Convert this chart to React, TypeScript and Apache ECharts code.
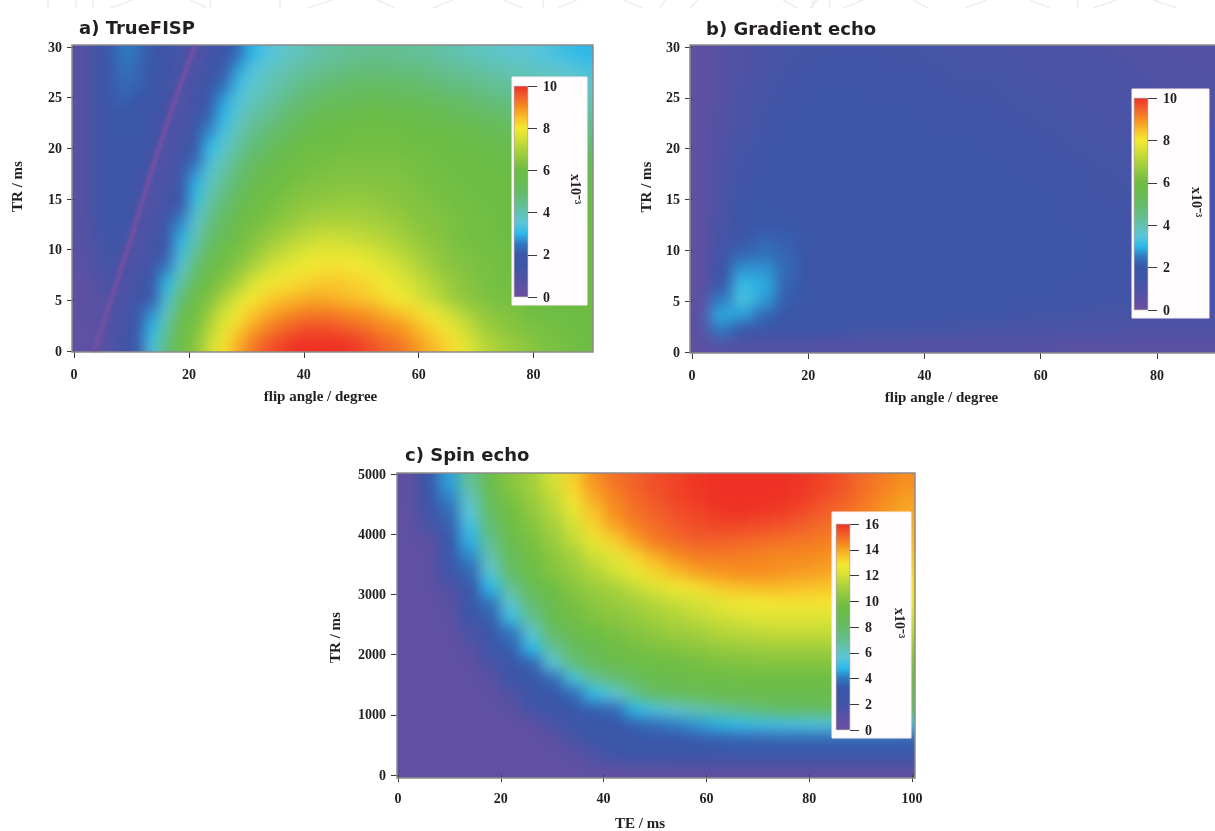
import React, { useEffect, useRef } from "react";
import * as echarts from "echarts";

const W = 1215;
const H = 831;

// Colour scale: evenly spaced from 0 to the maximum.
const scaleColors = [
  "#6b4fa1", "#5e50a3", "#4b53a6", "#3d55a7", "#3a56a8", "#2f78c0", "#2cb9e9",
  "#5bc5d9", "#62c2b0", "#63be88", "#64bc66", "#69bc4f", "#6dbd44", "#8cc63f",
  "#acd23b", "#d3e036", "#f3e932", "#f9c02a", "#f68e1f", "#f2602a", "#ee3124",
];

// Panel a) TrueFISP, x10^-3. Rows run from TR 29.25 (top) to TR 0.75 (bottom); columns 1.25..88.75 degrees.
const trueFisp = [
  [0.6,1.2,1.7,2.5,2.4,1.6,1.5,1.2,0.7,1.3,1.7,2.3,3.0,3.4,3.6,3.9,4.0,4.2,4.3,4.4,4.4,4.4,4.4,4.3,4.3,4.1,4.0,3.9,3.8,3.7,3.6,3.6,3.4,3.3,3.1,3.0],
  [0.6,1.2,1.7,2.4,2.3,1.6,1.5,1.1,0.8,1.5,1.9,2.8,3.4,3.7,3.9,4.1,4.3,4.4,4.5,4.6,4.7,4.7,4.6,4.6,4.5,4.4,4.3,4.2,4.1,4.0,3.9,3.8,3.7,3.6,3.5,3.3],
  [0.6,1.2,1.6,2.3,2.2,1.6,1.4,0.9,1.1,1.6,2.3,3.2,3.6,3.9,4.1,4.4,4.6,4.8,4.9,5.0,5.0,5.0,5.0,4.9,4.8,4.7,4.6,4.5,4.4,4.3,4.2,4.1,4.0,3.9,3.8,3.7],
  [0.6,1.2,1.6,2.2,2.0,1.6,1.3,0.8,1.3,1.8,2.8,3.4,3.8,4.1,4.4,4.7,4.9,5.1,5.2,5.3,5.4,5.4,5.3,5.3,5.2,5.1,5.0,4.9,4.7,4.6,4.5,4.4,4.2,4.1,4.0,3.9],
  [0.6,1.2,1.6,2.0,1.9,1.5,1.1,0.8,1.4,2.1,3.0,3.7,4.1,4.4,4.7,5.0,5.3,5.5,5.6,5.7,5.8,5.8,5.7,5.6,5.5,5.4,5.3,5.2,5.1,5.0,4.8,4.7,4.6,4.4,4.3,4.2],
  [0.6,1.2,1.6,1.9,1.8,1.5,0.9,1.0,1.5,2.6,3.3,3.9,4.4,4.7,5.0,5.3,5.6,5.8,5.9,6.0,6.0,6.0,6.0,5.9,5.8,5.8,5.7,5.6,5.4,5.3,5.2,5.0,4.9,4.8,4.6,4.5],
  [0.6,1.2,1.6,1.7,1.7,1.4,0.8,1.2,1.8,3.0,3.6,4.2,4.7,5.0,5.4,5.7,5.9,6.0,6.0,6.1,6.1,6.1,6.1,6.0,6.0,6.0,5.9,5.8,5.7,5.6,5.5,5.4,5.2,5.1,5.0,4.9],
  [0.6,1.2,1.6,1.6,1.6,1.2,0.8,1.3,2.2,3.3,3.9,4.5,5.0,5.4,5.7,6.0,6.1,6.1,6.2,6.2,6.2,6.2,6.2,6.1,6.1,6.0,6.0,6.0,5.9,5.8,5.7,5.6,5.5,5.4,5.3,5.2],
  [0.6,1.2,1.6,1.6,1.5,1.0,0.9,1.4,2.8,3.6,4.2,4.8,5.3,5.7,6.0,6.1,6.2,6.3,6.3,6.3,6.3,6.3,6.3,6.2,6.1,6.1,6.0,6.0,6.0,5.9,5.9,5.8,5.7,5.6,5.5,5.4],
  [0.6,1.2,1.6,1.6,1.4,0.8,1.2,1.6,3.0,3.9,4.5,5.1,5.6,6.0,6.1,6.3,6.4,6.4,6.5,6.5,6.5,6.4,6.4,6.3,6.2,6.1,6.1,6.0,6.0,6.0,6.0,5.9,5.9,5.8,5.7,5.6],
  [0.6,1.2,1.5,1.5,1.2,0.8,1.3,2.0,3.3,4.2,4.8,5.4,5.9,6.1,6.3,6.5,6.6,6.7,6.7,6.7,6.7,6.6,6.5,6.4,6.3,6.2,6.1,6.1,6.0,6.0,6.0,6.0,6.0,5.9,5.9,5.8],
  [0.6,1.1,1.5,1.5,1.0,0.9,1.4,2.6,3.6,4.5,5.1,5.7,6.1,6.3,6.5,6.7,6.9,7.0,7.0,7.0,6.9,6.8,6.7,6.5,6.4,6.3,6.2,6.1,6.1,6.0,6.0,6.0,6.0,6.0,6.0,5.9],
  [0.6,1.0,1.5,1.4,0.8,1.2,1.5,2.9,3.9,4.8,5.4,6.0,6.3,6.6,6.9,7.1,7.3,7.4,7.4,7.3,7.2,7.1,6.9,6.7,6.5,6.4,6.2,6.1,6.1,6.0,6.0,6.0,6.0,6.0,6.0,6.0],
  [0.6,0.9,1.4,1.2,0.8,1.3,1.8,3.2,4.3,5.2,5.8,6.2,6.6,7.0,7.3,7.5,7.7,7.8,7.8,7.7,7.6,7.4,7.2,7.0,6.7,6.5,6.3,6.2,6.1,6.1,6.0,6.0,6.0,6.0,6.0,6.0],
  [0.6,0.8,1.3,0.9,1.0,1.4,2.5,3.6,4.8,5.6,6.1,6.5,7.0,7.4,7.7,7.9,8.0,8.1,8.1,8.0,7.9,7.7,7.5,7.2,6.9,6.6,6.4,6.3,6.2,6.1,6.0,6.0,6.0,6.0,6.0,6.0],
  [0.5,0.7,1.1,0.8,1.3,1.5,3.0,4.1,5.3,6.0,6.5,7.0,7.6,7.9,8.1,8.2,8.3,8.4,8.4,8.3,8.2,8.0,7.8,7.5,7.2,6.9,6.6,6.4,6.2,6.1,6.1,6.0,6.0,6.0,6.0,6.0],
  [0.5,0.6,0.8,1.0,1.4,2.0,3.3,4.8,5.8,6.3,7.0,7.6,8.0,8.3,8.5,8.6,8.7,8.7,8.6,8.5,8.4,8.2,8.0,7.8,7.4,7.1,6.7,6.5,6.3,6.2,6.1,6.0,6.0,6.0,6.0,6.0],
  [0.5,0.6,0.7,1.1,1.5,2.7,3.7,5.3,6.0,6.7,7.5,8.0,8.4,8.7,8.9,9.1,9.2,9.2,9.1,9.0,8.9,8.7,8.5,8.3,8.0,7.7,7.3,6.9,6.6,6.4,6.3,6.1,6.0,6.0,6.0,6.0],
  [0.5,0.5,0.7,1.2,1.6,3.0,4.2,5.7,6.2,7.1,7.8,8.3,8.8,9.1,9.4,9.6,9.7,9.7,9.6,9.5,9.3,9.1,9.0,8.7,8.4,8.1,7.7,7.3,6.9,6.6,6.4,6.3,6.2,6.1,6.0,6.0],
  [0.5,0.5,0.8,1.3,1.9,3.3,4.6,5.9,6.4,7.4,8.1,8.7,9.2,9.6,9.8,10,10,10,10,9.9,9.7,9.5,9.3,9.0,8.7,8.4,8.1,7.6,7.2,6.9,6.7,6.5,6.3,6.2,6.1,6.0],
];

// Ridge of the dark streak in panel a): flip angle and TR read along it.
const streakAngles = [3.5, 6.4, 10.2, 14.2, 17.6, 21];
const streakTr = [0, 5, 11.6, 19, 24.8, 30];

// Panel b) Gradient echo, x10^-3. Rows TR 29.25 to 0.75; columns 1.875..88.125 degrees.
const gradientEcho = [
  [0.5,0.7,0.9,1.1,1.2,1.3,1.3,1.3,1.3,1.3,1.3,1.2,1.2,1.2,1.1,1.1,1.0,1.0,1.0,0.9,0.9,0.9,0.8,0.8],
  [0.5,0.7,0.9,1.1,1.3,1.3,1.4,1.4,1.4,1.3,1.3,1.3,1.2,1.2,1.2,1.1,1.1,1.0,1.0,1.0,0.9,0.9,0.9,0.8],
  [0.5,0.7,1.0,1.2,1.3,1.4,1.4,1.4,1.4,1.4,1.4,1.3,1.3,1.3,1.2,1.2,1.1,1.1,1.0,1.0,1.0,0.9,0.9,0.9],
  [0.5,0.7,1.0,1.2,1.4,1.4,1.5,1.5,1.4,1.4,1.4,1.4,1.3,1.3,1.3,1.2,1.2,1.1,1.1,1.0,1.0,1.0,0.9,0.9],
  [0.5,0.8,1.1,1.3,1.4,1.5,1.5,1.5,1.5,1.5,1.4,1.4,1.4,1.4,1.3,1.3,1.2,1.2,1.1,1.1,1.1,1.0,1.0,0.9],
  [0.5,0.8,1.1,1.3,1.5,1.5,1.5,1.5,1.5,1.5,1.5,1.4,1.4,1.4,1.4,1.3,1.3,1.2,1.2,1.1,1.1,1.1,1.0,1.0],
  [0.5,0.9,1.2,1.4,1.5,1.5,1.6,1.6,1.5,1.5,1.5,1.5,1.5,1.4,1.4,1.4,1.3,1.3,1.2,1.2,1.1,1.1,1.1,1.0],
  [0.5,0.9,1.3,1.4,1.5,1.6,1.6,1.6,1.6,1.5,1.5,1.5,1.5,1.5,1.4,1.4,1.4,1.3,1.3,1.2,1.2,1.1,1.1,1.1],
  [0.5,1.0,1.3,1.5,1.6,1.6,1.6,1.6,1.6,1.6,1.5,1.5,1.5,1.5,1.5,1.4,1.4,1.4,1.3,1.3,1.2,1.2,1.1,1.1],
  [0.5,1.0,1.4,1.6,1.6,1.6,1.6,1.6,1.6,1.6,1.6,1.5,1.5,1.5,1.5,1.5,1.4,1.4,1.3,1.3,1.3,1.2,1.2,1.1],
  [0.5,1.0,1.5,1.8,1.7,1.6,1.6,1.6,1.6,1.6,1.6,1.6,1.5,1.5,1.5,1.5,1.5,1.4,1.4,1.3,1.3,1.2,1.2,1.2],
  [0.5,1.1,1.7,2.0,1.9,1.6,1.6,1.6,1.6,1.6,1.6,1.6,1.5,1.5,1.5,1.5,1.5,1.4,1.4,1.4,1.3,1.3,1.2,1.2],
  [0.5,1.2,1.9,2.2,2.1,1.7,1.6,1.6,1.6,1.6,1.6,1.6,1.5,1.5,1.5,1.5,1.5,1.5,1.4,1.4,1.3,1.3,1.3,1.2],
  [0.5,1.3,2.2,2.4,2.2,1.7,1.7,1.6,1.6,1.6,1.6,1.6,1.6,1.5,1.5,1.5,1.5,1.5,1.4,1.4,1.4,1.3,1.3,1.2],
  [0.5,1.6,2.7,2.7,2.3,1.8,1.7,1.6,1.6,1.6,1.6,1.6,1.6,1.5,1.5,1.5,1.5,1.5,1.4,1.4,1.4,1.3,1.3,1.2],
  [0.5,1.9,3.1,2.9,2.2,1.7,1.6,1.6,1.6,1.6,1.6,1.6,1.5,1.5,1.5,1.5,1.5,1.4,1.4,1.4,1.3,1.3,1.3,1.2],
  [0.5,2.5,3.3,2.8,2.1,1.6,1.6,1.6,1.6,1.6,1.6,1.5,1.5,1.5,1.5,1.4,1.4,1.4,1.4,1.3,1.3,1.2,1.2,1.1],
  [0.6,2.9,2.8,2.3,1.8,1.6,1.6,1.5,1.5,1.5,1.5,1.5,1.4,1.4,1.4,1.3,1.3,1.3,1.2,1.2,1.2,1.1,1.1,1.0],
  [0.6,2.5,1.9,1.7,1.6,1.5,1.5,1.4,1.3,1.3,1.2,1.2,1.2,1.1,1.1,1.1,1.0,1.0,1.0,1.0,0.9,0.9,0.9,0.9],
  [0.5,0.7,0.8,0.8,0.8,0.8,0.7,0.7,0.7,0.7,0.7,0.7,0.7,0.7,0.7,0.7,0.7,0.6,0.6,0.6,0.6,0.6,0.6,0.6],
];

// Panel c) Spin echo, x10^-3. Rows TR 4875 to 125; columns TE 2..98 ms.
const spinEcho = [
  [.7,2.6,4.5,6.9,9,10.3,11,12,13.3,14.3,14.9,15.2,15.5,15.7,15.9,16,16,16,16,15.9,15.7,15.4,15,14.7,14.4],
  [.7,2.6,4.2,6.2,8.6,10,10.8,11.7,13,14,14.6,15.1,15.4,15.7,15.9,16,16,16,16,15.9,15.6,15.3,14.9,14.5,14.2],
  [.7,2.2,3.7,5.6,8.1,9.7,10.5,11.4,12.5,13.6,14.4,14.9,15.2,15.5,15.7,15.9,16,15.9,15.8,15.6,15.3,15,14.7,14.3,14],
  [.7,1.6,3.4,5.2,7.6,9.3,10.2,11,12,13.2,14,14.6,15,15.3,15.5,15.6,15.6,15.5,15.4,15.2,15,14.8,14.5,14.2,13.9],
  [.7,.9,3,4.7,7,8.9,9.9,10.7,11.6,12.5,13.3,14.1,14.7,15,15.2,15.2,15.1,15,14.9,14.8,14.7,14.5,14.2,14,13.7],
  [.7,.8,2.8,4.2,6.4,8.4,9.7,10.4,11,11.9,12.4,13.2,13.9,14.4,14.7,14.7,14.7,14.6,14.5,14.5,14.4,14.2,14,13.7,13.5],
  [.7,.8,2.5,3.6,5.7,8,9.3,10.2,10.7,11.3,12,12.6,13.2,13.7,14.1,14.3,14.4,14.4,14.3,14.2,14.1,13.9,13.7,13.5,13.2],
  [.7,.7,1.4,3.2,4.8,6.9,8.6,9.6,10.3,10.8,11.1,11.7,12.3,12.7,13,13.4,13.6,13.7,13.7,13.6,13.5,13.4,13.3,13.1,12.9],
  [.7,.7,1,2.8,3.9,5.9,7.8,9,9.9,10.4,10.7,11,11.4,11.8,12.1,12.4,12.7,12.8,12.9,12.9,12.9,12.8,12.8,12.6,12.5],
  [.7,.7,.8,2.4,3.4,5.1,7,8.7,9.7,10.1,10.4,10.7,11,11.3,11.6,11.9,12.1,12.3,12.3,12.3,12.3,12.2,12.1,12,11.9],
  [.7,.7,.7,1.6,3,3.9,5.8,8,8.9,9.5,9.9,10.2,10.5,10.8,11,11.3,11.5,11.6,11.7,11.7,11.7,11.7,11.6,11.5,11.4],
  [.7,.7,.7,1,2.8,3.4,4.8,6.8,8.2,8.8,9.4,9.8,10,10.2,10.4,10.6,10.7,10.8,10.9,10.9,10.9,10.9,10.8,10.7,10.6],
  [.7,.7,.7,.8,1.7,3,3.5,5.6,7.4,8.4,8.9,9.2,9.4,9.6,9.8,10,10.1,10.2,10.2,10.2,10.2,10.2,10.2,10.1,10],
  [.7,.7,.7,.7,1,2.6,3.1,3.7,5.3,6.9,7.7,8.4,8.9,9.1,9.3,9.4,9.5,9.6,9.6,9.6,9.6,9.6,9.6,9.5,9.4],
  [.7,.7,.7,.7,.8,1.4,2.9,3.2,3.7,4.9,5.7,7,8.1,8.4,8.6,8.8,8.9,9,9,9,9,9,9,8.9,8.8],
  [.7,.7,.7,.7,.7,.9,2,2.9,3.2,3.4,3.7,4.8,5.4,5.9,6.4,6.8,7.2,7.6,7.9,8,8.1,8.1,8.1,8,7.9],
  [.7,.7,.7,.7,.7,.7,.8,1.6,2.8,3,3.2,3.5,3.8,4.1,4.4,4.7,4.9,5.1,5.2,5.3,5.4,5.4,5.4,5.4,5.3],
  [.7,.7,.7,.7,.7,.7,.7,.9,1.8,2.8,3,3.1,3.2,3.2,3.3,3.4,3.5,3.5,3.6,3.6,3.6,3.6,3.6,3.6,3.5],
  [.7,.7,.7,.7,.7,.7,.7,.7,.9,1.5,2.4,2.8,2.9,3,3,3,3,3,3,3,3,3,3,3,3],
  [.7,.7,.7,.7,.7,.7,.7,.7,.7,.7,.7,.8,.8,.9,.9,.9,.9,.9,.9,.9,.9,.9,.9,.9,.9],
];

const flipTicks = [0, 20, 40, 60, 80];
const teTicks = [0, 20, 40, 60, 80, 100];
const shortTrTicks = [0, 5, 10, 15, 20, 25, 30];
const longTrTicks = [0, 1000, 2000, 3000, 4000, 5000];
const barTicks10 = [0, 2, 4, 6, 8, 10];
const barTicks16 = [0, 2, 4, 6, 8, 10, 12, 14, 16];

const panels = [
  {
    title: "a) TrueFISP", titleX: 79, titleY: 18, values: trueFisp, maxValue: 10,
    heat: { left: 72, top: 45, width: 521, height: 307 },
    plot: { left: 74, top: 47, width: 517, height: 304 },
    xMax: 90, xTicks: flipTicks, xName: "flip angle / degree", xNameShift: 24, xGap: 37,
    yMax: 30, yTicks: shortTrTicks, yGap: 50, yNamePad: [0, 0, 0, 25],
    box: { x: 512, y: 77, width: 75, height: 228 },
    bar: { left: 514, top: 86, width: 14, height: 211 }, barTicks: barTicks10, barMax: 10,
    unitX: 575, unitY: 189,
  },
  {
    title: "b) Gradient echo", titleX: 706, titleY: 19, values: gradientEcho, maxValue: 10,
    heat: { left: 690, top: 45, width: 530, height: 308 },
    plot: { left: 692, top: 47, width: 526, height: 305 },
    xMax: 90, xTicks: flipTicks, xName: "flip angle / degree", xNameShift: 24, xGap: 37,
    yMax: 30, yTicks: shortTrTicks, yGap: 39, yNamePad: [0, 0, 0, 25],
    box: { x: 1132, y: 89, width: 77, height: 229 },
    bar: { left: 1134, top: 98, width: 14, height: 212 }, barTicks: barTicks10, barMax: 10,
    unitX: 1196, unitY: 202,
  },
  {
    title: "c) Spin echo", titleX: 405, titleY: 445, values: spinEcho, maxValue: 16,
    heat: { left: 397, top: 473, width: 518, height: 305 },
    plot: { left: 398, top: 474, width: 514, height: 303 },
    xMax: 100, xTicks: teTicks, xName: "TE / ms", xNameShift: 30, xGap: 40,
    yMax: 5000, yTicks: longTrTicks, yGap: 56, yNamePad: [0, 26, 0, 0],
    box: { x: 832, y: 512, width: 79, height: 226 },
    bar: { left: 836, top: 524, width: 14, height: 206 }, barTicks: barTicks16, barMax: 16,
    unitX: 899, unitY: 623,
  },
];

// Faint page watermark along the top edge: [x at top, x at bottom].
const watermarkStrokes = [
  [48, 48], [76, 76], [93, 93], [133, 110], [190, 207], [210, 210], [280, 280], [333, 307], [377, 395],
  [453, 433], [503, 523], [543, 543], [577, 558], [623, 643], [665, 660], [698, 690], [783, 797], [813, 813],
  [830, 830], [817, 810], [863, 843], [913, 928], [987, 965], [1030, 1050], [1078, 1078], [1117, 1093], [1153, 1177],
];

const serif = "'Liberation Serif', 'Times New Roman', serif";
const blurPx = 7;
// Margin cells repeat each panel's edge cells, outside the clip, so that the blur does not fade at the frame.
const marginCells = 3;

function heatOption() {
  const layouts = panels.map((p) => {
    const nr = p.values.length;
    const nc = p.values[0].length;
    const cw = p.heat.width / nc;
    const ch = p.heat.height / nr;
    const padded = [
      ...Array(marginCells).fill(p.values[0]),
      ...p.values,
      ...Array(marginCells).fill(p.values[nr - 1]),
    ].map((row: number[]) => [
      ...Array(marginCells).fill(row[0]),
      ...row,
      ...Array(marginCells).fill(row[nc - 1]),
    ]);
    return {
      padded,
      grid: {
        left: p.heat.left - marginCells * cw,
        top: p.heat.top - marginCells * ch,
        width: p.heat.width + 2 * marginCells * cw,
        height: p.heat.height + 2 * marginCells * ch,
      },
    };
  });
  return {
    animation: false,
    grid: layouts.map((l) => ({ ...l.grid, show: false })),
    xAxis: layouts.map((l, i) => ({
      type: "category", gridIndex: i, show: false,
      data: l.padded[0].map((_: number, k: number) => k),
    })),
    yAxis: layouts.map((l, i) => ({
      type: "category", gridIndex: i, show: false,
      data: l.padded.map((_: number[], k: number) => k),
    })),
    visualMap: panels.map((p, i) => ({
      type: "continuous", show: false, seriesIndex: i, min: 0, max: p.maxValue, dimension: 2,
      inRange: { color: scaleColors },
    })),
    series: layouts.map((l, i) => ({
      type: "heatmap", xAxisIndex: i, yAxisIndex: i, silent: true,
      itemStyle: { borderWidth: 0 },
      emphasis: { disabled: true },
      data: l.padded.flatMap((row: number[], r: number) =>
        row.map((v, c) => [c, l.padded.length - 1 - r, v])),
    })),
  };
}

function frameOption() {
  const tickLabel = { fontFamily: serif, fontWeight: "bold" as const, fontSize: 14, color: "#231f20" };
  const lineDark = { color: "#3a3a3a", width: 1 };
  const stops = scaleColors
    .map((color, i) => ({ offset: 1 - i / (scaleColors.length - 1), color }))
    .reverse();
  const mainAxes = panels.length;
  const plain = (v: number) => String(v);

  return {
    animation: false,
    title: panels.map((p) => ({
      text: p.title, left: p.titleX, top: p.titleY, padding: 0,
      textStyle: { fontFamily: "'DejaVu Sans', sans-serif", fontWeight: "bold", fontSize: 18, color: "#231f20" },
    })),
    grid: [
      ...panels.map((p) => ({ ...p.plot, show: false })),
      ...panels.map((p) => ({ ...p.bar, show: false })),
    ],
    xAxis: [
      ...panels.map((p, i) => ({
        type: "value", gridIndex: i, min: 0, max: p.xMax,
        name: p.xName, nameLocation: "middle", nameGap: p.xGap,
        nameTextStyle: { ...tickLabel, fontSize: 15, padding: [0, p.xNameShift, 0, 0] },
        axisLine: { show: false }, splitLine: { show: false },
        axisTick: { show: true, length: 7, lineStyle: lineDark, customValues: p.xTicks },
        axisLabel: { ...tickLabel, margin: 16, customValues: p.xTicks, formatter: plain },
      })),
      ...panels.map((_, i) => ({
        type: "category", gridIndex: mainAxes + i, show: false, data: [""],
      })),
    ],
    yAxis: [
      ...panels.map((p, i) => ({
        type: "value", gridIndex: i, min: 0, max: p.yMax,
        name: "TR / ms", nameLocation: "middle", nameGap: p.yGap, nameRotate: 90,
        nameTextStyle: { ...tickLabel, fontSize: 15, padding: p.yNamePad },
        axisLine: { show: false }, splitLine: { show: false },
        axisTick: { show: true, length: 7, lineStyle: lineDark, customValues: p.yTicks },
        axisLabel: { ...tickLabel, margin: 12, customValues: p.yTicks, formatter: plain },
      })),
      ...panels.map((p, i) => ({
        type: "value", gridIndex: mainAxes + i, position: "right", min: 0, max: p.barMax, z: 6,
        axisLine: { show: false }, splitLine: { show: false },
        axisTick: { show: true, length: 9, lineStyle: lineDark, customValues: p.barTicks },
        axisLabel: { ...tickLabel, margin: 15, customValues: p.barTicks, formatter: plain },
      })),
    ],
    series: [
      ...panels.map((p, i) => ({
        type: "bar", xAxisIndex: mainAxes + i, yAxisIndex: mainAxes + i, barWidth: "100%", silent: true, z: 5,
        data: [p.barMax],
        itemStyle: {
          color: new echarts.graphic.LinearGradient(0, 0, 0, 1, stops),
          borderColor: "#8a7f86", borderWidth: 0.5,
        },
      })),
      {
        type: "line", xAxisIndex: 0, yAxisIndex: 0, silent: true, symbol: "none", z: 1,
        data: streakAngles.map((a, i) => [a, streakTr[i]]),
        lineStyle: { color: "#7350a3", width: 4.5, opacity: 0.65, shadowBlur: 5, shadowColor: "#7350a3" },
      },
    ],
    graphic: [
      ...watermarkStrokes.map(([x1, x2]) => ({
        type: "line", z: 0, silent: true,
        shape: { x1, y1: 0, x2, y2: 8 },
        style: { stroke: "#eeeeee", lineWidth: 1.5 },
      })),
      ...panels.map((p) => ({
        type: "rect", z: 1, silent: true,
        shape: { x: p.heat.left, y: p.heat.top, width: p.heat.width, height: p.heat.height },
        style: { fill: "none", stroke: "#8f8b8c", lineWidth: 1.5 },
      })),
      ...panels.map((p) => ({
        type: "rect", z: 2, silent: true,
        shape: p.box,
        style: { fill: "#fffdfd", stroke: "#fdeef2", lineWidth: 1 },
      })),
      ...panels.map((p) => ({
        type: "text", z: 7, silent: true, x: p.unitX, y: p.unitY, rotation: -Math.PI / 2,
        style: {
          text: "x10⁻³", align: "center", verticalAlign: "middle",
          font: `bold 14px ${serif}`, fill: "#231f20",
        },
      })),
    ],
  };
}

export default function App() {
  const heatRef = useRef<HTMLDivElement>(null);
  const topRef = useRef<HTMLDivElement>(null);

  useEffect(() => {
    const charts = [
      echarts.init(heatRef.current!, undefined, { renderer: "svg" }),
      echarts.init(topRef.current!, undefined, { renderer: "svg" }),
    ];
    charts[0].setOption(heatOption());
    charts[1].setOption(frameOption());
    return () => charts.forEach((c) => c.dispose());
  }, []);

  const layer: React.CSSProperties = { position: "absolute", left: 0, top: 0, width: W, height: H };
  const clip = panels
    .map((p) => `M${p.heat.left} ${p.heat.top}h${p.heat.width}v${p.heat.height}h${-p.heat.width}Z`)
    .join(" ");

  return (
    <div style={{ position: "absolute", left: 0, top: 0, width: W, height: H, overflow: "hidden", background: "#fff" }}>
      <style>{`.heat-cells svg path, .heat-cells svg rect { shape-rendering: crispEdges; }`}</style>
      <div
        ref={heatRef}
        className="heat-cells"
        style={{ ...layer, width: W + 60, filter: `blur(${blurPx}px)`, clipPath: `path('${clip}')` }}
      />
      <div ref={topRef} style={{ ...layer, filter: "blur(0.4px)" }} />
    </div>
  );
}
